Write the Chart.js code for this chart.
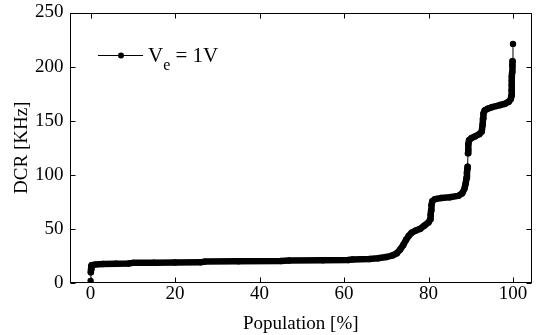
<!DOCTYPE html>
<html>
<head>
<meta charset="utf-8">
<script src="https://cdn.jsdelivr.net/npm/chart.js@4/dist/chart.umd.min.js"></script>
<style>
  html, body { margin: 0; padding: 0; background: #fff; }
  #wrap { width: 536px; height: 335px; }
</style>
</head>
<body>
<div id="wrap"><canvas id="c" width="536" height="335"></canvas></div>
<script>
// Sorted DCR of the measured population (cumulative view)
const popPct = [
  0, 0.05, 0.1, 0.15, 0.3, 1, 3, 6, 9, 10, 15, 20, 26, 27, 35, 45, 47, 55, 61, 62,
  66, 68, 70, 71.5, 72.5, 73.3, 74, 74.7, 75.3, 76, 77, 78, 79, 80, 80.4, 80.5, 80.6,
  80.7, 80.9, 81.5, 83, 85, 87, 88, 88.5, 88.8, 89, 89.1, 89.2, 89.25, 89.35, 89.4,
  89.45, 89.6, 90.2, 91, 92, 92.6, 92.8, 92.9, 93, 93.3, 94, 95, 96, 97, 98, 99,
  99.5, 99.6, 99.65, 99.7, 99.72, 99.75, 99.8, 99.85, 99.9, 100
];
const dcrKHz = [
  2, 10, 13, 15.5, 16.5, 17, 17.5, 17.8, 18, 18.6, 18.8, 18.9, 19.1, 19.8, 20, 20.3, 20.8, 21, 21.2, 21.8,
  22.2, 22.8, 24, 25.5, 27.5, 31, 35, 40, 43.5, 46.5, 48.5, 50, 53, 56, 59, 63, 67,
  72, 75.5, 77.5, 78.5, 79.2, 80.5, 83, 87, 92, 97, 102, 105.5, 107.5, 120, 123,
  128.5, 132, 134, 135.5, 137.5, 140, 146, 152, 156.5, 159.5, 161, 162.5, 163.5, 164.5, 165.5, 167.5,
  170, 173, 178, 183, 187, 191, 195, 201, 205, 221
];
const xTicks = [0, 20, 40, 60, 80, 100];
const yTicks = [0, 50, 100, 150, 200, 250];
const xTitle = 'Population [%]';
const yTitle = 'DCR [KHz]';
const legendMain = 'V';
const legendSub = 'e';
const legendRest = ' = 1V';

const SERIF = '"Liberation Serif", "Times New Roman", serif';

// Box around the plot, inward tick marks, axis titles and the legend entry
const framePlugin = {
  id: 'frame',
  afterDraw(chart) {
    const { ctx, chartArea: a, scales: { x, y } } = chart;
    const L = Math.round(a.left) + 0.5, R = Math.round(a.right) - 0.5;
    const T = Math.round(a.top) + 0.5, B = Math.round(a.bottom) - 0.5;
    ctx.save();
    ctx.strokeStyle = '#000';
    ctx.lineWidth = 1;
    ctx.strokeRect(L, T, R - L, B - T);
    const tl = 5;
    ctx.beginPath();
    xTicks.forEach(v => {
      const p = Math.round(x.getPixelForValue(v)) + 0.5;
      ctx.moveTo(p, B); ctx.lineTo(p, B - tl);
      ctx.moveTo(p, T); ctx.lineTo(p, T + tl);
    });
    yTicks.forEach(v => {
      const p = Math.round(y.getPixelForValue(v)) + 0.5;
      ctx.moveTo(L, p); ctx.lineTo(L + tl, p);
      ctx.moveTo(R, p); ctx.lineTo(R - tl, p);
    });
    ctx.stroke();

    // axis titles
    ctx.fillStyle = '#000';
    ctx.font = '19px ' + SERIF;
    ctx.textAlign = 'center';
    ctx.textBaseline = 'alphabetic';
    ctx.fillText(xTitle, (a.left + a.right) / 2, 329);
    ctx.save();
    ctx.translate(27, (a.top + a.bottom) / 2);
    ctx.rotate(-Math.PI / 2);
    ctx.fillText(yTitle, 0, 0);
    ctx.restore();

    // legend: line with marker and subscripted label
    ctx.beginPath();
    ctx.moveTo(98, 55.5); ctx.lineTo(143, 55.5);
    ctx.stroke();
    ctx.beginPath();
    ctx.arc(121, 55.5, 3, 0, Math.PI * 2);
    ctx.fill();
    ctx.textAlign = 'left';
    ctx.font = '21px ' + SERIF;
    let tx = 148;
    ctx.fillText(legendMain, tx, 62);
    tx += ctx.measureText(legendMain).width;
    ctx.font = '16px ' + SERIF;
    ctx.fillText(legendSub, tx, 70);
    tx += ctx.measureText(legendSub).width;
    ctx.font = '21px ' + SERIF;
    ctx.fillText(legendRest, tx, 62);
    ctx.restore();
  }
};

const points = popPct.map((v, i) => ({ x: v, y: dcrKHz[i] }));

new Chart(document.getElementById('c'), {
  type: 'line',
  data: {
    datasets: [{
      label: 'Ve = 1V',
      data: points,
      borderColor: '#000',
      backgroundColor: '#000',
      borderWidth: 6.5,
      borderJoinStyle: 'round',
      borderCapStyle: 'round',
      pointRadius: 3.2,
      pointBorderWidth: 0,
      pointBackgroundColor: '#000',
      tension: 0,
      segment: {
        // isolated samples on the steep jumps are joined by a hairline
        borderWidth: c => {
          const dx = Math.abs(c.p1.parsed.x - c.p0.parsed.x);
          const dy = Math.abs(c.p1.parsed.y - c.p0.parsed.y);
          return (dy > 6.5 && dx < 0.25) ? 1 : 6.5;
        }
      }
    }]
  },
  options: {
    responsive: false,
    animation: false,
    devicePixelRatio: 1,
    layout: { padding: { left: 0, top: 12.5, right: 1, bottom: 0 } },
    plugins: { legend: { display: false }, tooltip: { enabled: false } },
    scales: {
      x: {
        type: 'linear',
        min: -5,
        max: 104.5,
        grid: { display: false, drawTicks: false },
        border: { display: false },
        ticks: { color: '#000', font: { family: SERIF, size: 19 }, padding: 0, maxRotation: 0 },
        afterBuildTicks: s => { s.ticks = xTicks.map(v => ({ value: v })); },
        afterFit: s => { s.height = 52; s.paddingLeft = 0; s.paddingRight = 0; }
      },
      y: {
        type: 'linear',
        min: 0,
        max: 250,
        grid: { display: false, drawTicks: false },
        border: { display: false },
        ticks: { color: '#000', font: { family: SERIF, size: 19 }, padding: 6 },
        afterBuildTicks: s => { s.ticks = yTicks.map(v => ({ value: v })); },
        afterFit: s => { s.width = 69.5; s.paddingTop = 0; s.paddingBottom = 0; }
      }
    }
  },
  plugins: [framePlugin]
});
</script>
</body>
</html>
